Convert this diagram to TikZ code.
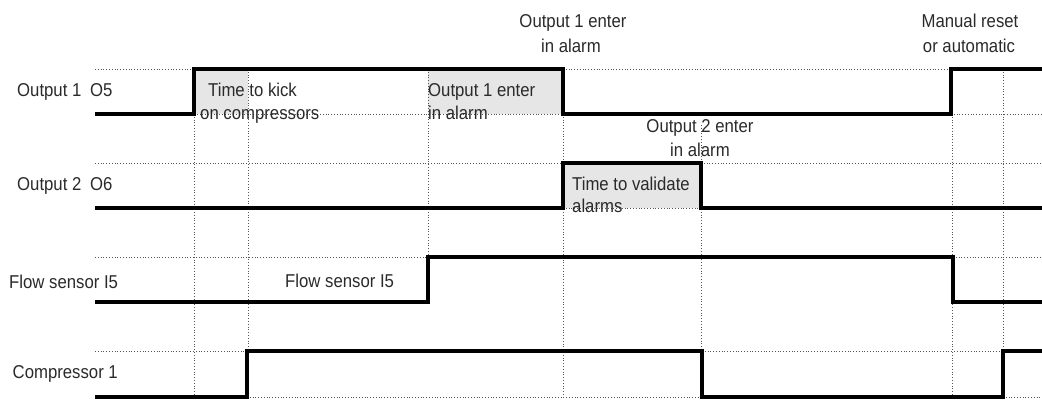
\documentclass[tikz,border=0pt]{standalone}
\usepackage{fontspec}
\setmainfont{Liberation Sans}[FakeStretch=0.9]
\definecolor{txt}{HTML}{2A2A2A}
\definecolor{shade}{HTML}{E6E6E6}
\definecolor{grid}{HTML}{555555}
\begin{document}
\begin{tikzpicture}[x=1pt,y=-1pt,
  signal/.style={line width=4.5pt,line join=miter,black},
  gridline/.style={dotted,line width=0.8pt,grid},
  shaded/.style={fill=shade,draw=none},
  lbl/.style={inner sep=0pt,anchor=base west,text=txt,font=\fontsize{18.6}{25}\selectfont},
  clbl/.style={lbl,anchor=base}]
\useasboundingbox (0,0) rectangle (1042,401);
% shaded intervals
\fill[shaded] (194,69) rectangle (248,114);
\fill[shaded] (428,69) rectangle (563,114);
\fill[shaded] (563,163) rectangle (701,208);
% horizontal dotted guides
\draw[gridline] (95,69) -- (194,69);
\draw[gridline] (563,69) -- (951,69);
\draw[gridline] (194,114) -- (563,114);
\draw[gridline] (951,114) -- (1042,114);
\draw[gridline] (95,163) -- (563,163);
\draw[gridline] (701,163) -- (1042,163);
\draw[gridline] (563,208) -- (701,208);
\draw[gridline] (95,257) -- (428,257);
\draw[gridline] (953,257) -- (1042,257);
\draw[gridline] (95,351) -- (247,351);
\draw[gridline] (702,351) -- (1003,351);
\draw[gridline] (247,397) -- (702,397);
\draw[gridline] (1003,397) -- (1042,397);
% vertical dotted guides
\draw[gridline] (194,114) -- (194,397);
\draw[gridline] (248,69) -- (248,351);
\draw[gridline] (428,69) -- (428,257);
\draw[gridline] (563,114) -- (563,397);
\draw[gridline] (701,125) -- (701,351);
\draw[gridline] (952,114) -- (952,397);
\draw[gridline] (1003,69) -- (1003,351);
% signals
\draw[signal] (95,114) -- (194,114) -- (194,69) -- (563,69) -- (563,114) -- (951,114) -- (951,69) -- (1042,69);
\draw[signal] (95,208) -- (563,208) -- (563,163) -- (701,163) -- (701,208) -- (1042,208);
\draw[signal] (95,302) -- (428,302) -- (428,257) -- (953,257) -- (953,302) -- (1042,302);
\draw[signal] (95,397) -- (247,397) -- (247,351) -- (702,351) -- (702,397) -- (1003,397) -- (1003,351) -- (1042,351);
% row labels
\node[lbl] (o1a) at (17,97) {Output 1};
\node[lbl] (o1b) at (90,97) {O5};
\node[lbl] (o2a) at (17,190) {Output 2};
\node[lbl] (o2b) at (90,190) {O6};
\node[lbl] (fs) at (9,288) {Flow sensor I5};
\node[lbl] (c1) at (12.5,378) {Compressor 1};
% annotations
\node[lbl] (k1) at (208,97) {Time to kick};
\node[lbl] (k2) at (200,120) {on compressors};
\node[lbl] (a1) at (428,97) {Output 1 enter};
\node[lbl] (a2) at (428,120) {in alarm};
\node[clbl] (t1) at (573,28) {Output 1 enter};
\node[clbl] (t2) at (571,53) {in alarm};
\node[clbl] (m1) at (970,28) {Manual reset};
\node[clbl] (m2) at (969,53) {or automatic};
\node[clbl] (b1) at (700,133) {Output 2 enter};
\node[clbl] (b2) at (700,157) {in alarm};
\node[lbl] (v1) at (572,190) {Time to validate};
\node[lbl] (v2) at (572,212) {alarms};
\node[lbl] (fs2) at (285,287) {Flow sensor I5};
\end{tikzpicture}
\end{document}
